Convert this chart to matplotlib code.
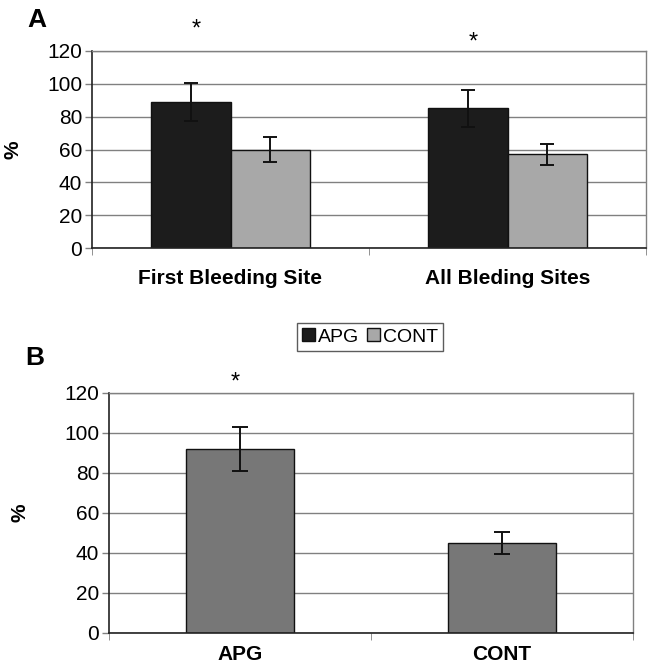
import matplotlib
matplotlib.use("AGG")
import matplotlib.pyplot as plt
from matplotlib.patches import Patch

# panel A: bleeding sites
sites = ["First Bleeding Site", "All Bleding Sites"]
apg_a = [89, 85]
apg_a_err = [11.5, 11]
cont_a = [60, 57]
cont_a_err = [7.7, 6.6]
stars_a = [133, 125]   # height of the "*" over each APG bar

# panel B: groups
groups = ["APG", "CONT"]
vals_b = [92, 45]
vals_b_err = [11, 5.6]
stars_b = [125, None]

yticks = [0, 20, 40, 60, 80, 100, 120]

plt.rcParams["font.family"] = ["Liberation Sans", "DejaVu Sans"]

fig = plt.figure(figsize=(6.48, 6.71), dpi=100)
W, H = 648, 671


def px_axes(x0, y0, x1, y1):
    return fig.add_axes([x0 / W, 1 - y1 / H, (x1 - x0) / W, (y1 - y0) / H])


def style(ax, ncat):
    ax.set_ylim(0, 120)
    ax.set_xlim(-0.5, ncat - 0.5)
    ax.set_yticks(yticks)
    ax.tick_params(axis="y", length=5, width=1, color="#808080",
                   labelsize=15, pad=2)
    ax.yaxis.grid(True, color="#808080", lw=1)
    ax.set_axisbelow(True)
    for s in ("top", "right"):
        ax.spines[s].set_color("#808080")
        ax.spines[s].set_linewidth(1)
    for s in ("left", "bottom"):
        ax.spines[s].set_color("#222222")
        ax.spines[s].set_linewidth(1.2)
    ax.set_xticks(range(ncat))
    ax.set_xticks([i - 0.5 for i in range(ncat + 1)], minor=True)
    ax.tick_params(axis="x", which="major", length=0, labelsize=15)
    ax.tick_params(axis="x", which="minor", length=5, color="#808080")
    ax.set_ylabel("%", fontsize=15, fontweight="bold")


# ---- A
axA = px_axes(92, 51, 646, 248)
style(axA, 2)
w = 0.287
x = list(range(len(sites)))
ekw = dict(elinewidth=1.4, capthick=1.4, ecolor="#111111")
axA.bar([i - w / 2 for i in x], apg_a, w, yerr=apg_a_err, capsize=5,
        color="#1c1c1c", edgecolor="#111111", lw=1, error_kw=ekw, label="APG")
axA.bar([i + w / 2 for i in x], cont_a, w, yerr=cont_a_err, capsize=5,
        color="#a8a8a8", edgecolor="#111111", lw=1, error_kw=ekw, label="CONT")
axA.set_xticklabels(sites, fontweight="bold")
axA.tick_params(axis="x", which="major", pad=15)
axA.yaxis.set_label_coords(-0.126, 0.5)
for i, s in enumerate(stars_a):
    axA.text(i - w / 2 + 0.02, s, "*", ha="center", va="center", fontsize=17,
             clip_on=False)

# ---- B
axB = px_axes(109, 393, 633, 633)
style(axB, 2)
wb = 0.41
axB.bar(range(len(groups)), vals_b, wb, yerr=vals_b_err, capsize=5.5,
        color="#777777", edgecolor="#111111", lw=1, error_kw=ekw)
axB.set_xticklabels(groups, fontweight="bold")
axB.tick_params(axis="x", which="major", pad=9)
axB.yaxis.set_label_coords(-0.151, 0.5)
for i, s in enumerate(stars_b):
    if s is not None:
        axB.text(i - 0.02, s, "*", ha="center", va="center", fontsize=17,
                 clip_on=False)

# shared legend between panels
handles = [Patch(facecolor="#1c1c1c", edgecolor="#111111", label="APG"),
           Patch(facecolor="#a8a8a8", edgecolor="#111111", label="CONT")]
fig.legend(handles=handles, loc="center", bbox_to_anchor=(370 / W, 1 - 337 / H),
           ncol=2, fontsize=14, frameon=True, fancybox=False, edgecolor="#333333",
           handlelength=0.65, handleheight=0.65, handletextpad=0.15,
           columnspacing=0.4, borderpad=0.3, borderaxespad=0)

fig.text(37 / W, 1 - 20 / H, "A", fontsize=19, fontweight="bold",
         ha="center", va="center")
fig.text(35 / W, 1 - 358 / H, "B", fontsize=19, fontweight="bold",
         ha="center", va="center")

fig.savefig("out.png", dpi=100)
